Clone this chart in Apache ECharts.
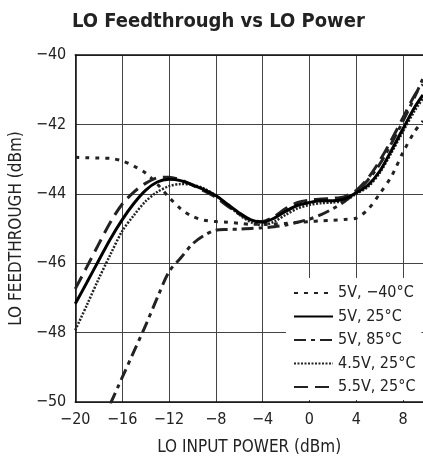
<!DOCTYPE html>
<html>
<head>
<meta charset="utf-8">
<script src="https://cdn.jsdelivr.net/npm/echarts@6/dist/echarts.min.js"></script>
<style>
  html, body { margin: 0; padding: 0; background: #fff; }
  #chart { width: 423px; height: 461px; }
</style>
</head>
<body>
<div id="chart"></div>
<script>
  // LO input power (dBm)
  const loPower = [-20, -19, -18, -17, -16, -15, -14, -13, -12, -11, -10, -9, -8, -7, -6, -5, -4, -3, -2, -1, 0, 1, 2, 3, 4, 5, 6, 7, 8, 9, 9.7];

  // LO feedthrough (dBm)
  const ft5vCold = [-42.95, -42.96, -42.97, -42.98, -43.05, -43.2, -43.4, -43.72, -44.1, -44.43, -44.65, -44.76, -44.8, -44.82, -44.85, -44.88, -44.88, -44.87, -44.85, -44.82, -44.8, -44.78, -44.76, -44.74, -44.7, -44.45, -44.0, -43.5, -42.8, -42.2, -41.9];
  const ft5vRoom = [-47.17, -46.55, -45.92, -45.3, -44.75, -44.28, -43.9, -43.66, -43.58, -43.62, -43.74, -43.88, -44.05, -44.3, -44.55, -44.75, -44.82, -44.7, -44.5, -44.33, -44.25, -44.2, -44.2, -44.15, -43.97, -43.75, -43.35, -42.75, -42.12, -41.5, -41.15];
  const ft5vHot = ['-', '-', '-', -50.05, -49.3, -48.55, -47.8, -47.0, -46.25, -45.85, -45.45, -45.2, -45.05, -45.03, -45.02, -45.0, -44.98, -44.95, -44.9, -44.82, -44.73, -44.6, -44.43, -44.22, -43.95, -43.6, -43.15, -42.55, -41.9, -41.2, -40.67];
  const ft45vRoom = [-47.93, -47.2, -46.45, -45.75, -45.08, -44.62, -44.22, -43.95, -43.78, -43.72, -43.74, -43.85, -44.05, -44.32, -44.6, -44.82, -44.9, -44.8, -44.6, -44.42, -44.32, -44.27, -44.25, -44.2, -44.0, -43.8, -43.4, -42.82, -42.2, -41.6, -41.25];
  const ft55vRoom = [-46.74, -46.1, -45.45, -44.82, -44.3, -43.95, -43.7, -43.54, -43.52, -43.6, -43.75, -43.92, -44.1, -44.35, -44.58, -44.76, -44.8, -44.65, -44.42, -44.25, -44.18, -44.15, -44.13, -44.08, -43.9, -43.55, -43.05, -42.45, -41.8, -41.15, -40.85];

  const seriesNames = ['5V, \u221240°C', '5V, 25°C', '5V, 85°C', '4.5V, 25°C', '5.5V, 25°C'];

  const font = "'Liberation Sans Narrow', 'DejaVu Sans Condensed', sans-serif";

  function pairs(ys) {
    return loPower.map((x, i) => [x, ys[i]]);
  }
  function minus(v) {
    return String(v).replace('-', '\u2212');
  }

  const chart = echarts.init(document.getElementById('chart'), null, { renderer: 'canvas' });

  const option = {
    animation: false,
    color: ['#222'],
    title: {
      text: 'LO Feedthrough vs LO Power',
      left: 72,
      top: 12,
      padding: 0,
      textStyle: { fontFamily: font, fontSize: 20, fontWeight: 'bold', color: '#222' }
    },
    grid: { left: 73, top: 55, right: 0, bottom: 55 },
    legend: {
      orient: 'vertical',
      left: 286,
      top: 278,
      width: 137,
      padding: [7, 6, 5, 7],
      backgroundColor: '#fff',
      itemWidth: 39,
      itemHeight: 16,
      itemGap: 7.5,
      itemStyle: { opacity: 0 },
      textStyle: { fontFamily: font, fontSize: 16, color: '#222' },
      data: seriesNames
    },
    xAxis: [
      {
        type: 'value',
        min: -20,
        max: 9.7,
        interval: 4,
        name: 'LO INPUT POWER (dBm)',
        nameLocation: 'middle',
        nameGap: 37,
        nameTextStyle: { fontFamily: font, fontSize: 17, color: '#222' },
        axisLine: { show: true, onZero: false, lineStyle: { color: '#111', width: 1.5 } },
        axisTick: { show: false },
        axisLabel: {
          margin: 10,
          fontFamily: font,
          fontSize: 16,
          color: '#222',
          showMaxLabel: false,
          formatter: v => (v % 4 === 0 ? minus(v) : '')
        },
        splitLine: { show: true, lineStyle: { color: '#444', width: 1 } }
      },
      {
        type: 'value',
        position: 'top',
        min: -20,
        max: 9.7,
        axisLine: { show: true, onZero: false, lineStyle: { color: '#111', width: 1.5 } },
        axisTick: { show: false },
        axisLabel: { show: false },
        splitLine: { show: false }
      }
    ],
    yAxis: {
      type: 'value',
      min: -50,
      max: -40,
      interval: 2,
      name: 'LO FEEDTHROUGH (dBm)',
      nameLocation: 'middle',
      nameGap: 50,
      nameTextStyle: { fontFamily: font, fontSize: 17, color: '#222' },
      axisLine: { show: true, onZero: false, lineStyle: { color: '#111', width: 1.5 } },
      axisTick: { show: false },
      axisLabel: { margin: 9, fontFamily: font, fontSize: 16, color: '#222', formatter: v => minus(v) },
      splitLine: { show: true, lineStyle: { color: '#444', width: 1 } }
    },
    series: [
      {
        name: seriesNames[0], type: 'line', data: pairs(ft5vCold), smooth: 0.3, symbol: 'none',
        lineStyle: { color: '#222', width: 3, type: [4, 6] }
      },
      {
        name: seriesNames[2], type: 'line', data: pairs(ft5vHot), smooth: 0.3, symbol: 'none',
        lineStyle: { color: '#222', width: 3, type: [12, 5, 4, 5] }
      },
      {
        name: seriesNames[3], type: 'line', data: pairs(ft45vRoom), smooth: 0.3, symbol: 'none',
        lineStyle: { color: '#222', width: 2.5, type: [2, 1.5] }
      },
      {
        name: seriesNames[4], type: 'line', data: pairs(ft55vRoom), smooth: 0.3, symbol: 'none',
        lineStyle: { color: '#222', width: 3, type: [14, 7] }
      },
      {
        name: seriesNames[1], type: 'line', data: pairs(ft5vRoom), smooth: 0.3, symbol: 'none',
        lineStyle: { color: '#000', width: 3 }
      }
    ]
  };

  chart.setOption(option);
</script>
</body>
</html>
